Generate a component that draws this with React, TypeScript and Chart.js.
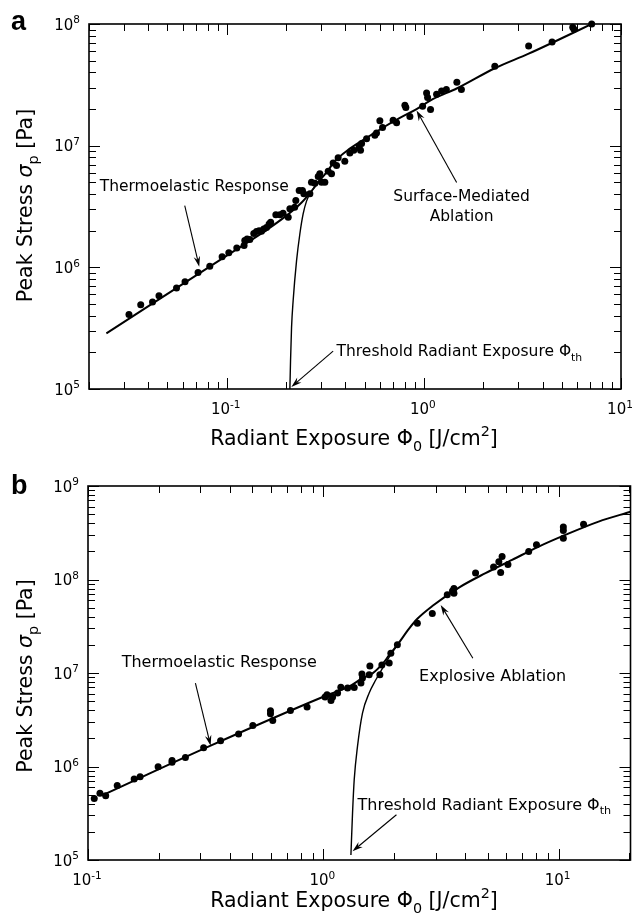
import React, { useEffect, useRef } from 'react';
import { Chart, registerables } from 'chart.js';

Chart.register(...registerables);

// ---------------- Panel a data ----------------
const aExposure = [
  0.0319, 0.0366, 0.042, 0.0453, 0.0556, 0.0614, 0.0715, 0.082, 0.0947, 0.1024,
  0.1124, 0.1224, 0.1234, 0.1268, 0.1309, 0.1371, 0.1415, 0.1459, 0.15, 0.154,
  0.159, 0.164, 0.167, 0.1774, 0.186, 0.193, 0.205, 0.209, 0.221, 0.224,
  0.233, 0.242, 0.246, 0.264, 0.269, 0.28, 0.291, 0.2965, 0.3025, 0.3145,
  0.327, 0.34, 0.3465, 0.3605, 0.3673, 0.397, 0.421, 0.441, 0.469, 0.477,
  0.483, 0.512, 0.564, 0.575, 0.598, 0.617, 0.698, 0.727, 0.801, 0.81,
  0.849, 0.985, 1.032, 1.044, 1.081, 1.16, 1.23, 1.3, 1.47, 1.55,
  2.29, 3.4, 4.47, 5.69, 5.77, 7.1,
];
const aStress = [
  4.09e5, 4.92e5, 5.18e5, 5.83e5, 6.75e5, 7.61e5, 9.08e5, 1.02e6, 1.22e6, 1.32e6,
  1.44e6, 1.51e6, 1.66e6, 1.71e6, 1.69e6, 1.9e6, 1.97e6, 2.0e6, 1.98e6, 2.07e6,
  2.13e6, 2.27e6, 2.35e6, 2.71e6, 2.71e6, 2.78e6, 2.58e6, 3.03e6, 3.12e6, 3.54e6,
  4.28e6, 4.28e6, 4.02e6, 4.02e6, 5.01e6, 4.92e6, 5.58e6, 5.88e6, 5.01e6, 5.01e6,
  6.17e6, 5.88e6, 7.19e6, 6.88e6, 7.96e6, 7.46e6, 8.69e6, 9.15e6, 9.74e6, 9.15e6,
  1.04e7, 1.14e7, 1.22e7, 1.27e7, 1.6e7, 1.41e7, 1.62e7, 1.54e7, 2.15e7, 2.06e7,
  1.74e7, 2.11e7, 2.71e7, 2.49e7, 1.98e7, 2.65e7, 2.82e7, 2.9e7, 3.32e7, 2.9e7,
  4.5e7, 6.59e7, 7.11e7, 9.39e7, 9.04e7, 1.0e8,
];
const aFitExposure = [
  0.0245, 0.1, 0.15, 0.2, 0.2348, 0.2649, 0.2966, 0.3267, 0.3465, 0.421,
  0.512, 0.6216, 0.7553, 0.918, 1.115, 1.466, 2.29, 3.4, 7.1,
];
const aFitStress = [
  2.87e5, 1.25e6, 1.9e6, 2.65e6, 3.3e6, 4.1e6, 5.2e6, 6.26e6, 7.2e6, 9.45e6,
  1.16e7, 1.41e7, 1.69e7, 2.0e7, 2.42e7, 2.95e7, 4.33e7, 5.7e7, 1.0e8,
];
const aThresholdExposure = [0.209, 0.2106, 0.2131, 0.2171, 0.2259, 0.2348, 0.244, 0.2539, 0.2649, 0.2966];
const aThresholdStress = [1.0e5, 1.7e5, 3.2e5, 5.31e5, 1.13e6, 1.88e6, 2.75e6, 3.5e6, 4.05e6, 5.2e6];

// ---------------- Panel b data ----------------
const bExposure = [
  0.1063, 0.1124, 0.1189, 0.1331, 0.1571, 0.1665, 0.1986, 0.2276, 0.2276, 0.2594,
  0.31, 0.366, 0.4364, 0.5017, 0.5962, 0.5962, 0.6097, 0.7248, 0.853, 1.017,
  1.037, 1.078, 1.095, 1.15, 1.187, 1.268, 1.353, 1.445, 1.459, 1.467,
  1.566, 1.577, 1.739, 1.773, 1.905, 1.936, 2.064, 2.51, 2.905, 3.363,
  3.538, 3.59, 3.59, 4.436, 5.29, 5.57, 5.75, 5.67, 6.09, 7.46,
  8.05, 10.47, 10.47, 10.47, 12.76,
];
const bStress = [
  4.56e5, 5.16e5, 4.88e5, 6.28e5, 7.35e5, 7.78e5, 9.95e5, 1.11e6, 1.16e6, 1.25e6,
  1.59e6, 1.89e6, 2.22e6, 2.75e6, 3.95e6, 3.66e6, 3.11e6, 3.98e6, 4.32e6, 5.53e6,
  5.85e6, 5.08e6, 5.53e6, 6.1e6, 7.04e6, 6.9e6, 7.0e6, 7.8e6, 9.73e6, 8.82e6,
  9.57e6, 1.19e7, 9.57e6, 1.22e7, 1.28e7, 1.63e7, 2.0e7, 3.41e7, 4.34e7, 6.85e7,
  7.55e7, 7.14e7, 8.03e7, 1.17e8, 1.36e8, 1.55e8, 1.76e8, 1.19e8, 1.45e8, 1.99e8,
  2.36e8, 3.65e8, 3.35e8, 2.76e8, 3.91e8,
];
const bFitExposure = [
  0.1143, 0.332, 1.0, 1.289, 1.467, 1.618, 1.784, 1.905, 2.064, 2.314,
  2.51, 2.905, 3.77, 4.89, 6.34, 8.23, 10.68, 14.78, 20.25,
];
const bFitStress = [
  4.88e5, 1.67e6, 5.57e6, 7.18e6, 8.82e6, 9.9e6, 1.25e7, 1.55e7, 2.0e7, 2.98e7,
  3.8e7, 5.2e7, 8.2e7, 1.17e8, 1.62e8, 2.25e8, 3.0e8, 4.16e8, 5.31e8,
];
const bThresholdExposure = [1.31, 1.331, 1.353, 1.397, 1.467, 1.566, 1.672, 1.784, 1.905, 2.064];
const bThresholdStress = [1.13e5, 3.19e5, 7.23e5, 1.64e6, 3.73e6, 6.1e6, 8.46e6, 1.12e7, 1.48e7, 2.0e7];

// ---------------- Text ----------------
const xTitle = [
  { t: 'Radiant Exposure ' }, { t: 'Φ' }, { t: '0', sub: true }, { t: ' [J/cm' }, { t: '2', sup: true }, { t: ']' },
];
const yTitle = [
  { t: 'Peak Stress ' }, { t: 'σ', italic: true }, { t: 'p', sub: true }, { t: ' [Pa]' },
];
const thresholdLabel = [{ t: 'Threshold Radiant Exposure ' }, { t: 'Φ' }, { t: 'th', sub: true }];

const FONT = '"DejaVu Sans", Verdana, sans-serif';

type Part = { t: string; sub?: boolean; sup?: boolean; italic?: boolean };

function fontFor(p: Part, size: number) {
  const s = p.sub || p.sup ? size * 0.7 : size;
  return `${p.italic ? 'italic ' : ''}${s}px ${FONT}`;
}
function richWidth(ctx: CanvasRenderingContext2D, parts: Part[], size: number) {
  let w = 0;
  for (const p of parts) {
    ctx.font = fontFor(p, size);
    w += ctx.measureText(p.t).width;
  }
  return w;
}
function drawRich(ctx: CanvasRenderingContext2D, parts: Part[], x: number, y: number, size: number, align: string) {
  const w = richWidth(ctx, parts, size);
  let cx = align === 'left' ? x : align === 'center' ? x - w / 2 : x - w;
  ctx.textAlign = 'left';
  ctx.textBaseline = 'alphabetic';
  for (const p of parts) {
    ctx.font = fontFor(p, size);
    const dy = p.sub ? size * 0.3 : p.sup ? -size * 0.42 : 0;
    ctx.fillText(p.t, cx, y + dy);
    cx += ctx.measureText(p.t).width;
  }
}

function logTicks(min: number, max: number) {
  const out: { v: number; major: boolean }[] = [];
  const d0 = Math.floor(Math.log10(min) + 1e-9);
  const d1 = Math.ceil(Math.log10(max) - 1e-9);
  for (let d = d0; d <= d1; d++) {
    for (let m = 1; m <= 9; m++) {
      const v = m * Math.pow(10, d);
      if (v >= min * (1 - 1e-9) && v <= max * (1 + 1e-9)) out.push({ v, major: m === 1 });
    }
  }
  return out;
}

function drawArrow(ctx: CanvasRenderingContext2D, x0: number, y0: number, x1: number, y1: number) {
  const ang = Math.atan2(y1 - y0, x1 - x0);
  const L = 11, half = 0.3, notch = 7;
  ctx.lineWidth = 1.1;
  ctx.beginPath();
  ctx.moveTo(x0, y0);
  ctx.lineTo(x1 - Math.cos(ang) * notch, y1 - Math.sin(ang) * notch);
  ctx.stroke();
  ctx.beginPath();
  ctx.moveTo(x1, y1);
  ctx.lineTo(x1 - L * Math.cos(ang - half), y1 - L * Math.sin(ang - half));
  ctx.lineTo(x1 - notch * Math.cos(ang), y1 - notch * Math.sin(ang));
  ctx.lineTo(x1 - L * Math.cos(ang + half), y1 - L * Math.sin(ang + half));
  ctx.closePath();
  ctx.fill();
}

type Note = { lines: Part[][]; at: [number, number]; align: string; lineGap?: number; arrow?: { from: [number, number]; to: [number, number] } };

type PanelSpec = {
  letter: string;
  letterBaseline: number;
  height: number;
  xMin: number; xMax: number; yMin: number; yMax: number;
  padTop: number; padRight: number; yAxisW: number; xAxisH: number;
  xTitleBaseline: number; yTitleCenter: number;
  textSize: number;
  points: { x: number; y: number }[];
  fit: { x: number; y: number }[];
  threshold: { x: number; y: number }[];
  notes: Note[];
};

function zip(xs: number[], ys: number[]) {
  return xs.map((x, i) => ({ x, y: ys[i] }));
}

const panelA: PanelSpec = {
  letter: 'a', letterBaseline: 30, height: 455,
  xMin: 0.02, xMax: 10, yMin: 1e5, yMax: 1e8,
  padTop: 24, padRight: 13, yAxisW: 89, xAxisH: 66,
  xTitleBaseline: 445, yTitleCenter: 205.5, textSize: 15.5,
  points: zip(aExposure, aStress),
  fit: zip(aFitExposure, aFitStress),
  threshold: zip(aThresholdExposure, aThresholdStress),
  notes: [
    { lines: [[{ t: 'Thermoelastic Response' }]], at: [0.02266, 4.24e6], align: 'left',
      arrow: { from: [0.0612, 3.22e6], to: [0.0725, 1.01e6] } },
    { lines: [[{ t: 'Surface-Mediated' }], [{ t: 'Ablation' }]], at: [1.554, 3.51e6], align: 'center', lineGap: 20,
      arrow: { from: [1.466, 4.98e6], to: [0.918, 1.95e7] } },
    { lines: [thresholdLabel], at: [0.3604, 1.87e5], align: 'left',
      arrow: { from: [0.3464, 2.05e5], to: [0.2126, 1.04e5] } },
  ],
};

const panelB: PanelSpec = {
  letter: 'b', letterBaseline: 39, height: 465,
  xMin: 0.1, xMax: 20.2, yMin: 1e5, yMax: 1e9,
  padTop: 31, padRight: 2, yAxisW: 88, xAxisH: 60,
  xTitleBaseline: 451.5, yTitleCenter: 221, textSize: 16,
  points: zip(bExposure, bStress),
  fit: zip(bFitExposure, bFitStress),
  threshold: zip(bThresholdExposure, bThresholdStress),
  notes: [
    { lines: [[{ t: 'Thermoelastic Response' }]], at: [0.139, 1.17e7], align: 'left',
      arrow: { from: [0.286, 7.8e6], to: [0.332, 1.67e6] } },
    { lines: [[{ t: 'Explosive Ablation' }]], at: [2.552, 8.25e6], align: 'left',
      arrow: { from: [4.32, 1.44e7], to: [3.153, 5.35e7] } },
    { lines: [thresholdLabel], at: [1.397, 3.46e5], align: 'left',
      arrow: { from: [2.045, 3.05e5], to: [1.331, 1.24e5] } },
  ],
};

function makeDecor(spec: PanelSpec) {
  return {
    id: 'decor',
    afterDatasetsDraw(chart: any) {
      const { ctx, chartArea: ca, scales } = chart;
      const xs = scales.x, ys = scales.y;
      ctx.save();
      ctx.strokeStyle = '#000';
      ctx.fillStyle = '#000';
      // ticks
      ctx.lineWidth = 1;
      ctx.beginPath();
      for (const t of logTicks(spec.xMin, spec.xMax)) {
        const px = Math.round(xs.getPixelForValue(t.v)) + 0.5;
        const len = t.major ? 11 : 7;
        ctx.moveTo(px, ca.bottom); ctx.lineTo(px, ca.bottom - len);
        ctx.moveTo(px, ca.top); ctx.lineTo(px, ca.top + len);
      }
      for (const t of logTicks(spec.yMin, spec.yMax)) {
        const py = Math.round(ys.getPixelForValue(t.v)) + 0.5;
        const len = t.major ? 11 : 7;
        ctx.moveTo(ca.left, py); ctx.lineTo(ca.left + len, py);
        ctx.moveTo(ca.right, py); ctx.lineTo(ca.right - len, py);
      }
      ctx.stroke();
      // frame
      ctx.lineWidth = 1.6;
      ctx.strokeRect(ca.left, ca.top, ca.right - ca.left, ca.bottom - ca.top);

      // tick labels
      const ts = 15;
      for (const t of logTicks(spec.xMin, spec.xMax)) {
        if (!t.major) continue;
        const e = Math.round(Math.log10(t.v));
        const px = xs.getPixelForValue(t.v);
        drawRich(ctx, [{ t: '10' }, { t: String(e), sup: true }], px - 1, ca.bottom + 25, ts, 'center');
      }
      for (const t of logTicks(spec.yMin, spec.yMax)) {
        if (!t.major) continue;
        const e = Math.round(Math.log10(t.v));
        const py = ys.getPixelForValue(t.v);
        drawRich(ctx, [{ t: '10' }, { t: String(e), sup: true }], ca.left - 9, py + 5.5, ts, 'right');
      }

      // axis titles
      drawRich(ctx, xTitle, 354, spec.xTitleBaseline, 20.5, 'center');
      ctx.save();
      ctx.translate(32, spec.yTitleCenter);
      ctx.rotate(-Math.PI / 2);
      drawRich(ctx, yTitle, 0, 0, 20.5, 'center');
      ctx.restore();

      // panel letter
      ctx.font = `bold 27px "Liberation Sans", Arial, sans-serif`;
      ctx.textAlign = 'left';
      ctx.textBaseline = 'alphabetic';
      ctx.fillText(spec.letter, 11, spec.letterBaseline);

      // annotations
      for (const n of spec.notes) {
        const x = xs.getPixelForValue(n.at[0]);
        const y = ys.getPixelForValue(n.at[1]);
        n.lines.forEach((ln, i) => drawRich(ctx, ln, x, y + i * (n.lineGap || 20), spec.textSize, n.align));
        if (n.arrow) {
          drawArrow(
            ctx,
            xs.getPixelForValue(n.arrow.from[0]), ys.getPixelForValue(n.arrow.from[1]),
            xs.getPixelForValue(n.arrow.to[0]), ys.getPixelForValue(n.arrow.to[1]),
          );
        }
      }
      ctx.restore();
    },
  };
}

function Panel({ spec }: { spec: PanelSpec }) {
  const ref = useRef<HTMLCanvasElement>(null);
  useEffect(() => {
    const canvas = ref.current;
    if (!canvas) return;
    const chart = new Chart(canvas, {
      type: 'scatter',
      data: {
        datasets: [
          {
            label: 'Measured peak stress',
            data: spec.points,
            pointRadius: 3.5,
            pointHoverRadius: 3.5,
            pointBorderWidth: 0,
            backgroundColor: '#000',
            borderColor: '#000',
            showLine: false,
            clip: false as any,
          },
          {
            label: 'Model',
            data: spec.fit,
            showLine: true,
            pointRadius: 0,
            borderColor: '#000',
            borderWidth: 2,
            cubicInterpolationMode: 'monotone',
          },
          {
            label: 'Threshold',
            data: spec.threshold,
            showLine: true,
            pointRadius: 0,
            borderColor: '#000',
            borderWidth: 1.4,
            cubicInterpolationMode: 'monotone',
          },
        ],
      } as any,
      options: {
        animation: false,
        responsive: false,
        devicePixelRatio: 1,
        events: [],
        layout: { padding: { top: spec.padTop, right: spec.padRight, left: 0, bottom: 0 } },
        plugins: { legend: { display: false }, tooltip: { enabled: false } },
        scales: {
          x: {
            type: 'logarithmic', min: spec.xMin, max: spec.xMax,
            grid: { display: false }, border: { display: false },
            ticks: { display: false },
            afterFit: (s: any) => { s.height = spec.xAxisH; },
          },
          y: {
            type: 'logarithmic', min: spec.yMin, max: spec.yMax,
            grid: { display: false }, border: { display: false },
            ticks: { display: false },
            afterFit: (s: any) => { s.width = spec.yAxisW; },
          },
        },
      } as any,
      plugins: [makeDecor(spec)],
    });
    return () => chart.destroy();
  }, [spec]);
  return <canvas ref={ref} width={634} height={spec.height} style={{ display: 'block', width: 634, height: spec.height }} />;
}

export default function App() {
  return (
    <div style={{ position: 'absolute', left: 0, top: 0, width: 634, height: 920, background: '#fff' }}>
      <Panel spec={panelA} />
      <Panel spec={panelB} />
    </div>
  );
}
